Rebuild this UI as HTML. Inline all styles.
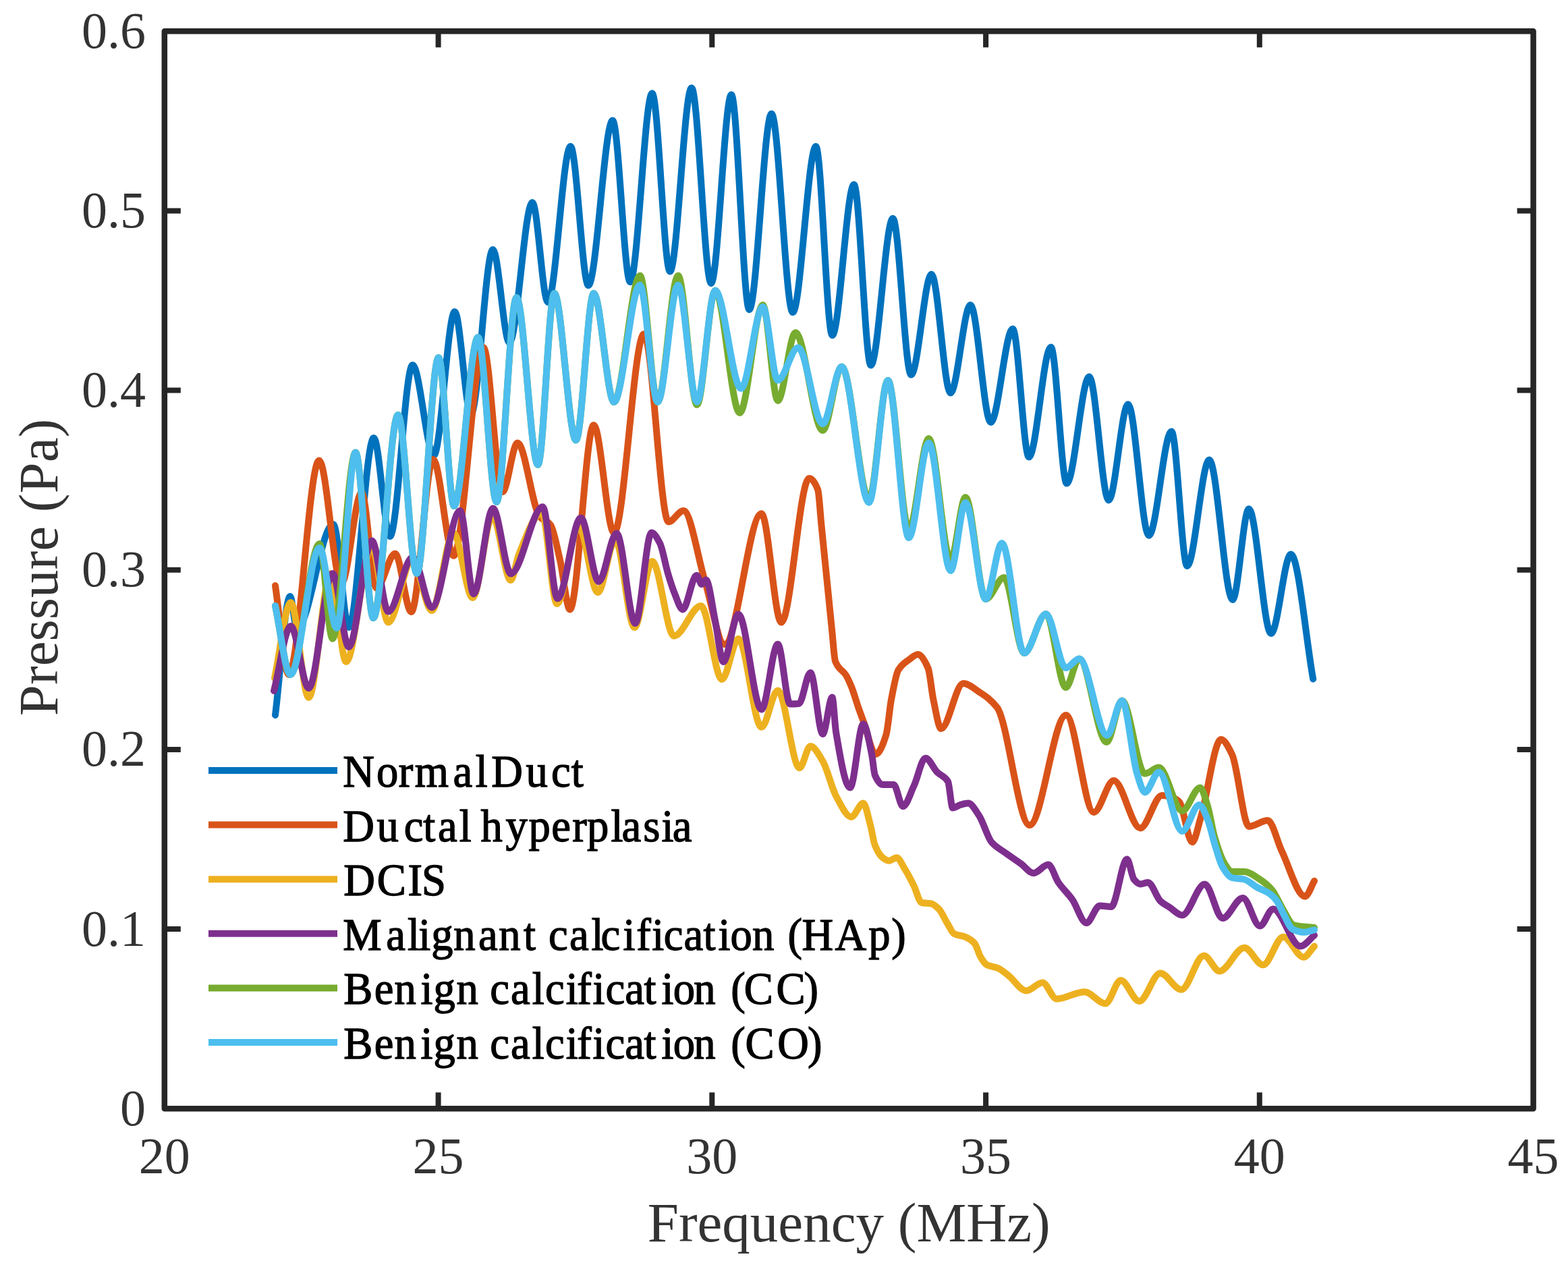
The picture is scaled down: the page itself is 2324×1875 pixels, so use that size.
<!DOCTYPE html>
<html><head><meta charset="utf-8"><title>Pressure vs Frequency</title>
<style>
html,body{margin:0;padding:0;background:#fff;}
svg{display:block;}
text{font-family:"Liberation Serif","Times New Roman",serif;fill:#333;font-size:76px;}
text.lab{font-size:83px;}
text.lg{font-size:68px;fill:#000;stroke:#000;stroke-width:1.4px;}
</style></head><body>
<svg width="2324" height="1875" viewBox="0 0 2324 1875">
<rect x="0" y="0" width="2324" height="1875" fill="#fff"/>
<g fill="none" stroke-linejoin="round" stroke-linecap="round">
<path d="M408.0 1060.0C415.3 1001.3 422.7 884.0 430.0 884.0C433.3 884.0 436.7 932.0 440.0 932.0C458.0 932.0 476.0 777.0 494.0 777.0C501.7 777.0 509.3 930.0 517.0 930.0C529.3 930.0 541.7 649.0 554.0 649.0C562.0 649.0 570.0 795.0 578.0 795.0C589.2 795.0 600.3 541.0 611.5 541.0C622.0 541.0 632.5 675.0 643.0 675.0C653.3 675.0 663.7 462.0 674.0 462.0C682.0 462.0 690.0 614.0 698.0 614.0C708.8 614.0 719.7 370.0 730.5 370.0C738.7 370.0 746.8 508.0 755.0 508.0C766.3 508.0 777.7 300.0 789.0 300.0C796.7 300.0 804.3 448.0 812.0 448.0C823.2 448.0 834.4 217.0 845.6 217.0C854.4 217.0 863.2 423.0 872.0 423.0C884.0 423.0 896.0 178.6 908.0 178.6C916.7 178.6 925.3 418.0 934.0 418.0C944.9 418.0 955.7 138.3 966.6 138.3C975.4 138.3 984.2 402.4 993.0 402.4C1003.7 402.4 1014.3 130.2 1025.0 130.2C1034.7 130.2 1044.3 420.0 1054.0 420.0C1064.0 420.0 1074.0 140.3 1084.0 140.3C1092.8 140.3 1101.7 459.0 1110.5 459.0C1121.5 459.0 1132.5 168.5 1143.5 168.5C1154.0 168.5 1164.5 463.0 1175.0 463.0C1186.4 463.0 1197.9 217.0 1209.3 217.0C1217.4 217.0 1225.4 497.0 1233.5 497.0C1244.2 497.0 1255.0 273.4 1265.7 273.4C1274.0 273.4 1282.4 541.5 1290.7 541.5C1301.6 541.5 1312.5 323.8 1323.4 323.8C1332.4 323.8 1341.4 555.6 1350.4 555.6C1360.5 555.6 1370.5 406.5 1380.6 406.5C1390.0 406.5 1399.4 582.5 1408.8 582.5C1418.7 582.5 1428.5 452.0 1438.4 452.0C1448.4 452.0 1458.4 626.0 1468.4 626.0C1479.3 626.0 1490.1 487.5 1501.0 487.5C1509.0 487.5 1517.0 677.5 1525.0 677.5C1535.9 677.5 1546.7 514.5 1557.6 514.5C1565.4 514.5 1573.2 716.6 1581.0 716.6C1592.1 716.6 1603.3 558.3 1614.4 558.3C1624.0 558.3 1633.6 741.5 1643.2 741.5C1652.8 741.5 1662.4 599.3 1672.0 599.3C1682.3 599.3 1692.5 793.8 1702.8 793.8C1714.0 793.8 1725.1 639.4 1736.3 639.4C1744.0 639.4 1751.8 838.9 1759.5 838.9C1770.4 838.9 1781.4 681.6 1792.3 681.6C1803.8 681.6 1815.4 889.0 1826.9 889.0C1834.9 889.0 1843.0 754.2 1851.0 754.2C1862.0 754.2 1872.9 939.1 1883.9 939.1C1893.7 939.1 1903.5 821.6 1913.3 821.6C1924.3 821.6 1935.2 944.9 1946.2 1006.5" stroke="#0072BD" stroke-width="10"/>
<path d="M408.0 868.0C414.7 912.0 421.3 1000.0 428.0 1000.0C443.0 1000.0 458.0 682.4 473.0 682.4C484.0 682.4 495.0 865.0 506.0 865.0C516.0 865.0 526.0 730.0 536.0 730.0C543.3 730.0 550.7 872.0 558.0 872.0C567.2 872.0 576.4 820.6 585.6 820.6C593.6 820.6 601.6 907.0 609.6 907.0C620.4 907.0 631.2 681.0 642.0 681.0C652.1 681.0 662.2 823.8 672.3 823.8C687.1 823.8 701.8 515.3 716.6 515.3C726.0 515.3 735.4 729.0 744.8 729.0C752.2 729.0 759.6 656.5 767.0 656.5C778.0 656.5 789.0 753.5 800.0 766.0C805.3 772.1 810.7 771.2 816.0 778.0C820.7 783.9 825.3 810.1 830.0 830.0C834.9 850.8 839.8 903.4 844.7 903.4C856.5 903.4 868.2 630.0 880.0 630.0C890.0 630.0 900.0 790.0 910.0 790.0C924.8 790.0 939.7 495.0 954.5 495.0C966.6 495.0 978.7 773.4 990.8 773.4C998.2 773.4 1005.6 757.0 1013.0 757.0C1023.7 757.0 1034.3 827.4 1045.0 862.0C1054.7 893.3 1064.3 955.0 1074.0 955.0C1092.2 955.0 1110.4 761.3 1128.6 761.3C1138.4 761.3 1148.2 922.6 1158.0 922.6C1171.7 922.6 1185.5 709.0 1199.2 709.0C1203.5 709.0 1207.9 714.7 1212.2 726.0C1213.9 730.5 1215.7 760.7 1217.4 778.0C1219.1 795.3 1220.9 812.8 1222.6 830.0C1224.3 847.2 1226.1 864.3 1227.8 881.5C1229.5 898.7 1231.3 916.7 1233.0 933.4C1234.7 949.5 1236.3 975.6 1238.0 980.0C1243.3 994.1 1248.7 992.1 1254.0 1001.0C1256.7 1005.4 1259.3 1011.4 1262.0 1018.0C1265.3 1026.2 1268.7 1038.5 1272.0 1048.0C1274.7 1055.6 1277.3 1062.8 1280.0 1070.0C1286.0 1086.3 1292.0 1118.0 1298.0 1118.0C1303.1 1118.0 1308.3 1105.2 1313.4 1089.0C1315.9 1081.0 1318.5 1050.3 1321.0 1037.0C1324.5 1018.6 1328.0 998.7 1331.5 993.0C1336.7 984.5 1341.8 981.8 1347.0 978.0C1351.5 974.7 1356.0 970.0 1360.5 970.0C1365.5 970.0 1370.6 978.6 1375.6 990.5C1378.2 996.7 1380.8 1024.8 1383.4 1037.0C1387.2 1054.8 1391.0 1080.0 1394.8 1080.0C1405.8 1080.0 1416.7 1013.0 1427.7 1013.0C1435.7 1013.0 1443.8 1020.7 1451.8 1026.0C1460.5 1031.7 1469.1 1037.1 1477.8 1048.5C1493.9 1069.6 1509.9 1223.0 1526.0 1223.0C1544.0 1223.0 1562.0 1060.0 1580.0 1060.0C1593.7 1060.0 1607.5 1204.0 1621.2 1204.0C1631.0 1204.0 1640.9 1157.0 1650.7 1157.0C1663.8 1157.0 1676.9 1227.4 1690.0 1227.4C1700.7 1227.4 1711.5 1179.0 1722.2 1179.0C1726.8 1179.0 1731.4 1180.1 1736.0 1181.3C1739.9 1182.3 1743.7 1184.6 1747.6 1188.2C1754.1 1194.3 1760.6 1248.2 1767.1 1248.2C1771.3 1248.2 1775.6 1225.1 1779.8 1211.3C1789.8 1178.8 1799.8 1096.0 1809.8 1096.0C1815.2 1096.0 1820.6 1107.3 1826.0 1118.0C1834.4 1134.7 1842.8 1225.0 1851.2 1225.0C1860.4 1225.0 1869.7 1216.0 1878.9 1216.0C1885.9 1216.0 1893.0 1247.4 1900.0 1262.0C1911.4 1285.6 1922.8 1328.8 1934.2 1328.8C1938.8 1328.8 1943.4 1313.5 1948.0 1305.8" stroke="#D95319" stroke-width="10"/>
<path d="M407.0 1005.0C415.0 967.7 423.0 893.0 431.0 893.0C439.8 893.0 448.7 1034.0 457.5 1034.0C468.3 1034.0 479.2 850.0 490.0 850.0C497.7 850.0 505.3 981.0 513.0 981.0C525.7 981.0 538.3 810.0 551.0 810.0C559.2 810.0 567.3 922.6 575.5 922.6C587.3 922.6 599.2 830.0 611.0 830.0C620.7 830.0 630.3 905.0 640.0 905.0C650.7 905.0 661.3 790.0 672.0 790.0C681.5 790.0 691.0 886.0 700.5 886.0C710.3 886.0 720.2 765.0 730.0 765.0C739.0 765.0 748.0 860.0 757.0 860.0C761.0 860.0 765.0 831.5 769.0 821.8C780.3 794.4 791.7 760.0 803.0 760.0C810.5 760.0 818.0 895.0 825.5 895.0C836.2 895.0 847.0 780.0 857.7 780.0C867.1 780.0 876.6 878.0 886.0 878.0C894.7 878.0 903.3 800.0 912.0 800.0C921.5 800.0 930.9 930.0 940.4 930.0C949.1 930.0 957.9 831.9 966.6 831.9C977.4 831.9 988.2 942.7 999.0 942.7C1012.3 942.7 1025.7 898.0 1039.0 898.0C1049.3 898.0 1059.7 1007.0 1070.0 1007.0C1078.1 1007.0 1086.3 946.8 1094.4 946.8C1105.8 946.8 1117.2 1077.8 1128.6 1077.8C1136.7 1077.8 1144.7 1023.4 1152.8 1023.4C1163.5 1023.4 1174.3 1138.3 1185.0 1138.3C1190.4 1138.3 1195.8 1106.0 1201.2 1106.0C1207.3 1106.0 1213.3 1118.2 1219.4 1128.2C1226.1 1139.3 1232.8 1168.5 1239.5 1180.6C1246.9 1193.9 1254.3 1210.9 1261.7 1210.9C1267.6 1210.9 1273.6 1190.6 1279.5 1190.6C1283.0 1190.6 1286.5 1210.0 1290.0 1222.8C1292.3 1231.1 1294.5 1247.3 1296.8 1252.8C1300.6 1262.2 1304.5 1268.4 1308.3 1271.2C1311.4 1273.5 1314.5 1275.8 1317.6 1275.8C1321.4 1275.8 1325.2 1271.2 1329.0 1271.2C1332.9 1271.2 1336.7 1281.2 1340.6 1287.3C1345.2 1294.6 1349.8 1303.5 1354.4 1312.7C1358.3 1320.4 1362.1 1337.3 1366.0 1338.0C1370.6 1338.8 1375.2 1338.5 1379.8 1339.2C1383.6 1339.8 1387.5 1343.5 1391.3 1347.2C1395.9 1351.6 1400.4 1363.1 1405.0 1370.3C1408.1 1375.2 1411.2 1382.5 1414.3 1384.1C1419.7 1386.8 1425.1 1386.5 1430.5 1388.7C1435.1 1390.6 1439.7 1393.1 1444.3 1398.0C1447.4 1401.3 1450.4 1413.8 1453.5 1418.7C1456.6 1423.6 1459.6 1428.7 1462.7 1430.2C1468.1 1432.8 1473.4 1432.6 1478.8 1434.8C1484.2 1437.0 1489.6 1442.1 1495.0 1446.3C1503.7 1453.0 1512.3 1468.5 1521.0 1468.5C1529.1 1468.5 1537.1 1456.4 1545.2 1456.4C1552.1 1456.4 1559.1 1480.6 1566.0 1480.6C1579.8 1480.6 1593.6 1470.2 1607.4 1470.2C1617.8 1470.2 1628.1 1487.5 1638.5 1487.5C1646.0 1487.5 1653.5 1453.0 1661.0 1453.0C1670.2 1453.0 1679.4 1484.0 1688.6 1484.0C1699.0 1484.0 1709.3 1442.6 1719.7 1442.6C1730.1 1442.6 1740.5 1466.8 1750.9 1466.8C1762.1 1466.8 1773.2 1416.4 1784.4 1416.4C1792.1 1416.4 1799.8 1439.4 1807.5 1439.4C1819.8 1439.4 1832.0 1404.8 1844.3 1404.8C1853.5 1404.8 1862.8 1430.2 1872.0 1430.2C1882.0 1430.2 1892.0 1388.7 1902.0 1388.7C1912.0 1388.7 1922.0 1418.7 1932.0 1418.7C1937.3 1418.7 1942.7 1407.9 1948.0 1402.5" stroke="#EDB120" stroke-width="10"/>
<path d="M406.0 1024.0C414.3 992.0 422.7 928.0 431.0 928.0C439.8 928.0 448.7 1020.0 457.5 1020.0C469.3 1020.0 481.0 850.0 492.8 850.0C500.9 850.0 508.9 959.0 517.0 959.0C528.4 959.0 539.9 801.6 551.3 801.6C559.4 801.6 567.4 906.5 575.5 906.5C587.6 906.5 599.7 825.8 611.8 825.8C621.2 825.8 630.6 900.4 640.0 900.4C654.0 900.4 668.0 757.0 682.0 757.0C688.6 757.0 695.3 880.4 701.9 880.4C711.5 880.4 721.1 753.6 730.7 753.6C739.5 753.6 748.4 850.4 757.2 850.4C772.9 850.4 788.7 751.3 804.4 751.3C811.7 751.3 819.0 887.3 826.3 887.3C837.8 887.3 849.4 767.5 860.9 767.5C869.7 767.5 878.6 862.0 887.4 862.0C896.2 862.0 905.1 790.5 913.9 790.5C923.1 790.5 932.3 924.0 941.5 924.0C949.6 924.0 957.6 789.4 965.7 789.4C969.8 789.4 973.9 797.2 978.0 805.0C982.0 812.6 986.0 836.7 990.0 850.0C993.3 861.1 996.7 872.0 1000.0 880.0C1003.9 889.4 1007.9 903.4 1011.8 903.4C1018.7 903.4 1025.6 852.7 1032.5 852.7C1035.0 852.7 1037.5 866.0 1040.0 866.0C1042.1 866.0 1044.3 859.6 1046.4 859.6C1050.9 859.6 1055.5 898.5 1060.0 920.0C1064.0 939.0 1068.0 981.0 1072.0 981.0C1079.5 981.0 1086.9 910.5 1094.4 910.5C1105.8 910.5 1117.2 1051.6 1128.6 1051.6C1136.7 1051.6 1144.7 954.8 1152.8 954.8C1158.9 954.8 1164.9 1043.5 1171.0 1043.5C1175.3 1043.5 1179.7 1043.3 1184.0 1043.0C1189.7 1042.6 1195.5 997.0 1201.2 997.0C1207.3 997.0 1213.3 1088.0 1219.4 1088.0C1224.1 1088.0 1228.8 1033.5 1233.5 1033.5C1235.3 1033.5 1237.2 1073.6 1239.0 1084.6C1246.0 1126.7 1253.0 1167.5 1260.0 1167.5C1266.5 1167.5 1273.0 1073.0 1279.5 1073.0C1283.7 1073.0 1288.0 1098.4 1292.2 1119.0C1293.7 1126.5 1295.3 1145.5 1296.8 1149.0C1300.6 1157.7 1304.5 1163.0 1308.3 1163.0C1313.7 1163.0 1319.1 1163.0 1324.5 1163.0C1329.1 1163.0 1333.7 1195.2 1338.3 1195.2C1343.7 1195.2 1349.0 1176.4 1354.4 1165.2C1360.2 1153.1 1365.9 1123.7 1371.7 1123.7C1377.5 1123.7 1383.2 1138.7 1389.0 1144.5C1394.3 1149.8 1399.7 1149.5 1405.0 1158.3C1407.3 1162.2 1409.7 1197.5 1412.0 1197.5C1415.8 1197.5 1419.7 1193.9 1423.5 1192.9C1427.3 1191.9 1431.2 1190.6 1435.0 1190.6C1440.4 1190.6 1445.8 1201.1 1451.2 1209.0C1457.3 1218.0 1463.5 1241.2 1469.6 1248.2C1476.5 1256.1 1483.5 1259.2 1490.4 1264.3C1498.1 1269.9 1505.7 1274.8 1513.4 1280.4C1519.5 1284.8 1525.7 1294.2 1531.8 1294.2C1539.1 1294.2 1546.4 1281.6 1553.7 1281.6C1558.7 1281.6 1563.7 1300.7 1568.7 1308.0C1575.6 1318.1 1582.5 1323.7 1589.4 1333.4C1596.3 1343.2 1603.3 1368.0 1610.2 1368.0C1616.8 1368.0 1623.4 1342.6 1630.0 1342.6C1635.7 1342.6 1641.3 1344.0 1647.0 1344.0C1654.8 1344.0 1662.6 1273.5 1670.4 1273.5C1673.8 1273.5 1677.3 1299.5 1680.7 1303.5C1683.8 1307.1 1686.9 1310.4 1690.0 1310.4C1693.8 1310.4 1697.7 1308.0 1701.5 1308.0C1707.7 1308.0 1713.8 1330.0 1720.0 1335.7C1724.6 1339.9 1729.1 1342.0 1733.7 1345.0C1739.9 1349.0 1746.0 1356.5 1752.2 1356.5C1763.3 1356.5 1774.5 1310.4 1785.6 1310.4C1794.4 1310.4 1803.2 1361.0 1812.0 1361.0C1822.0 1361.0 1832.0 1331.0 1842.0 1331.0C1850.5 1331.0 1858.9 1372.6 1867.4 1372.6C1873.9 1372.6 1880.5 1347.2 1887.0 1347.2C1900.4 1347.2 1913.9 1402.5 1927.3 1402.5C1934.2 1402.5 1941.1 1391.8 1948.0 1386.4" stroke="#7E2F8E" stroke-width="10"/>
<path d="M408.0 898.0C415.5 932.0 423.0 1000.0 430.5 1000.0C444.9 1000.0 459.2 806.0 473.6 806.0C480.0 806.0 486.4 946.8 492.8 946.8C504.2 946.8 515.6 670.5 527.0 670.5C535.8 670.5 544.6 916.0 553.4 916.0C565.6 916.0 577.8 615.0 590.0 615.0C599.3 615.0 608.5 850.0 617.8 850.0C628.5 850.0 639.3 530.0 650.0 530.0C657.7 530.0 665.3 750.0 673.0 750.0C684.8 750.0 696.7 500.0 708.5 500.0C717.7 500.0 726.8 744.0 736.0 744.0C745.8 744.0 755.7 441.0 765.5 441.0C776.1 441.0 786.7 688.7 797.3 688.7C805.4 688.7 813.4 434.7 821.5 434.7C832.2 434.7 843.0 652.4 853.7 652.4C862.5 652.4 871.2 434.7 880.0 434.7C890.0 434.7 900.0 596.0 910.0 596.0C922.8 596.0 935.7 408.5 948.5 408.5C957.2 408.5 966.0 596.0 974.7 596.0C984.8 596.0 994.9 408.5 1005.0 408.5C1014.3 408.5 1023.7 600.0 1033.0 600.0C1042.0 600.0 1051.0 430.6 1060.0 430.6C1072.1 430.6 1084.3 612.0 1096.4 612.0C1107.8 612.0 1119.2 452.0 1130.6 452.0C1138.0 452.0 1145.4 594.0 1152.8 594.0C1161.5 594.0 1170.3 493.0 1179.0 493.0C1192.5 493.0 1205.9 638.0 1219.4 638.0C1228.8 638.0 1238.2 543.5 1247.6 543.5C1261.1 543.5 1274.5 740.0 1288.0 740.0C1297.3 740.0 1306.7 563.7 1316.0 563.7C1326.3 563.7 1336.7 785.0 1347.0 785.0C1356.9 785.0 1366.7 650.0 1376.6 650.0C1387.4 650.0 1398.1 830.0 1408.9 830.0C1416.3 830.0 1423.6 737.0 1431.0 737.0C1441.0 737.0 1451.0 888.0 1461.0 888.0C1470.0 888.0 1479.0 856.0 1488.0 856.0C1498.0 856.0 1508.0 968.0 1518.0 968.0C1528.7 968.0 1539.5 910.0 1550.2 910.0C1560.0 910.0 1569.9 1019.0 1579.7 1019.0C1586.3 1019.0 1592.9 976.5 1599.5 976.5C1613.1 976.5 1626.6 1100.0 1640.2 1100.0C1647.8 1100.0 1655.4 1038.5 1663.0 1038.5C1674.3 1038.5 1685.6 1146.8 1696.9 1146.8C1703.8 1146.8 1710.7 1137.6 1717.6 1137.6C1729.1 1137.6 1740.7 1202.0 1752.2 1202.0C1761.0 1202.0 1769.9 1167.5 1778.7 1167.5C1782.5 1167.5 1786.2 1183.0 1790.0 1195.0C1793.3 1205.6 1796.7 1228.6 1800.0 1240.0C1805.0 1257.0 1810.0 1272.4 1815.0 1280.0C1818.7 1285.6 1822.3 1292.0 1826.0 1292.0C1832.1 1292.0 1838.2 1292.0 1844.3 1292.0C1852.0 1292.0 1859.7 1298.6 1867.4 1303.5C1873.5 1307.4 1879.7 1312.3 1885.8 1319.6C1890.5 1325.2 1895.3 1337.3 1900.0 1345.0C1906.0 1354.7 1912.0 1370.0 1918.0 1371.4C1928.0 1373.8 1938.0 1373.8 1948.0 1375.0" stroke="#77AC30" stroke-width="10"/>
<path d="M408.0 898.0C415.5 932.0 423.0 1000.0 430.5 1000.0C444.9 1000.0 459.2 812.0 473.6 812.0C482.1 812.0 490.5 931.0 499.0 931.0C508.3 931.0 517.7 670.5 527.0 670.5C535.8 670.5 544.6 916.0 553.4 916.0C565.6 916.0 577.8 615.0 590.0 615.0C599.3 615.0 608.5 850.0 617.8 850.0C628.5 850.0 639.3 530.0 650.0 530.0C657.7 530.0 665.3 750.0 673.0 750.0C684.8 750.0 696.7 500.0 708.5 500.0C717.7 500.0 726.8 744.0 736.0 744.0C745.8 744.0 755.7 441.0 765.5 441.0C776.1 441.0 786.7 688.7 797.3 688.7C805.4 688.7 813.4 434.7 821.5 434.7C832.2 434.7 843.0 652.4 853.7 652.4C862.5 652.4 871.2 434.7 880.0 434.7C890.0 434.7 900.0 596.0 910.0 596.0C922.8 596.0 935.7 422.6 948.5 422.6C957.2 422.6 966.0 596.0 974.7 596.0C984.8 596.0 994.9 422.6 1005.0 422.6C1014.3 422.6 1023.7 596.0 1033.0 596.0C1042.0 596.0 1051.0 430.6 1060.0 430.6C1072.8 430.6 1085.6 575.8 1098.4 575.8C1109.1 575.8 1119.9 454.8 1130.6 454.8C1138.0 454.8 1145.4 563.7 1152.8 563.7C1162.9 563.7 1172.9 515.3 1183.0 515.3C1195.1 515.3 1207.3 628.2 1219.4 628.2C1228.8 628.2 1238.2 543.5 1247.6 543.5C1261.1 543.5 1274.5 745.0 1288.0 745.0C1297.3 745.0 1306.7 563.7 1316.0 563.7C1326.3 563.7 1336.7 797.0 1347.0 797.0C1356.9 797.0 1366.7 656.5 1376.6 656.5C1387.4 656.5 1398.1 846.0 1408.9 846.0C1416.3 846.0 1423.6 745.0 1431.0 745.0C1441.0 745.0 1451.0 888.0 1461.0 888.0C1469.0 888.0 1477.0 805.0 1485.0 805.0C1496.0 805.0 1507.0 968.0 1518.0 968.0C1528.7 968.0 1539.5 910.0 1550.2 910.0C1560.0 910.0 1569.9 990.0 1579.7 990.0C1586.3 990.0 1592.9 976.5 1599.5 976.5C1613.3 976.5 1627.2 1090.0 1641.0 1090.0C1648.3 1090.0 1655.7 1038.5 1663.0 1038.5C1670.4 1038.5 1677.9 1123.9 1685.3 1146.8C1689.2 1158.7 1693.0 1174.4 1696.9 1174.4C1703.8 1174.4 1710.7 1144.5 1717.6 1144.5C1729.1 1144.5 1740.7 1232.0 1752.2 1232.0C1760.6 1232.0 1769.1 1192.9 1777.5 1192.9C1781.7 1192.9 1785.8 1205.1 1790.0 1215.0C1793.3 1222.9 1796.7 1239.4 1800.0 1250.0C1804.0 1262.8 1808.0 1278.4 1812.0 1285.0C1816.7 1292.8 1821.3 1299.8 1826.0 1301.0C1832.1 1302.5 1838.2 1302.1 1844.3 1303.5C1850.5 1304.9 1856.6 1311.6 1862.8 1315.0C1868.9 1318.4 1875.1 1320.0 1881.2 1324.2C1885.0 1326.8 1888.9 1330.6 1892.7 1335.7C1895.8 1339.9 1898.9 1348.4 1902.0 1354.0C1906.6 1362.4 1911.2 1374.9 1915.8 1377.2C1921.2 1379.9 1926.6 1381.8 1932.0 1381.8C1937.3 1381.8 1942.7 1379.5 1948.0 1378.3" stroke="#4DBEEE" stroke-width="10"/>
</g>
<path d="M649.6 1643.2V1619.2M649.6 46.2V70.2M1055.3 1643.2V1619.2M1055.3 46.2V70.2M1461.1 1643.2V1619.2M1461.1 46.2V70.2M1866.8 1643.2V1619.2M1866.8 46.2V70.2M243.8 1377.0H267.8M2272.6 1377.0H2248.6M243.8 1110.9H267.8M2272.6 1110.9H2248.6M243.8 844.7H267.8M2272.6 844.7H2248.6M243.8 578.5H267.8M2272.6 578.5H2248.6M243.8 312.4H267.8M2272.6 312.4H2248.6" stroke="#262626" stroke-width="8" fill="none"/>
<rect x="243.8" y="46.2" width="2028.8" height="1597.0" stroke="#262626" stroke-width="8.5" fill="none" stroke-linejoin="round"/>
<text x="216" y="1667.7" text-anchor="end">0</text><text x="216" y="1401.5" text-anchor="end">0.1</text><text x="216" y="1135.4" text-anchor="end">0.2</text><text x="216" y="869.2" text-anchor="end">0.3</text><text x="216" y="603.0" text-anchor="end">0.4</text><text x="216" y="336.9" text-anchor="end">0.5</text><text x="216" y="70.7" text-anchor="end">0.6</text><text x="243.8" y="1739" text-anchor="middle">20</text><text x="649.6" y="1739" text-anchor="middle">25</text><text x="1055.3" y="1739" text-anchor="middle">30</text><text x="1461.1" y="1739" text-anchor="middle">35</text><text x="1866.8" y="1739" text-anchor="middle">40</text><text x="2272.6" y="1739" text-anchor="middle">45</text>
<text class="lab" x="1258.2" y="1840" text-anchor="middle">Frequency (MHz)</text>
<text class="lab" transform="translate(85 841) rotate(-90)" text-anchor="middle">Pressure (Pa)</text>
<path d="M309 1142.0H500" stroke="#0072BD" stroke-width="10" fill="none"/><text transform="scale(0.95 1)" x="535.1 587.3 621.8 647.2 706.9 741.8 760.7 766.7 820.6 859.9 891.2" y="1166.0" class="lg">Normal Duct</text><path d="M309 1222.6H500" stroke="#D95319" stroke-width="10" fill="none"/><text transform="scale(0.95 1)" x="535.1 587.8 630.3 660.2 683.2 716.5 735.4 749.9 788.9 824.8 860.4 893.0 915.7 953.2 970.1 1003.3 1032.2 1049.2" y="1246.6" class="lg">Ductal hyperplasia</text><path d="M309 1303.2H500" stroke="#EDB120" stroke-width="10" fill="none"/><text transform="scale(0.95 1)" x="536.1 588.1 636.4 657.8" y="1327.2" class="lg">DCIS</text><path d="M309 1383.8H500" stroke="#7E2F8E" stroke-width="10" fill="none"/><text transform="scale(0.95 1)" x="535.1 602.5 635.8 653.0 673.0 707.7 746.2 778.3 816.9 835.8 855.8 888.3 922.7 937.5 972.0 992.9 1017.2 1035.4 1066.8 1097.5 1120.5 1139.5 1173.6 1207.6 1228.9 1251.1 1302.6 1355.0 1390.9" y="1407.8" class="lg">Malignant calcification (HAp)</text><path d="M309 1464.4H500" stroke="#77AC30" stroke-width="10" fill="none"/><text transform="scale(0.95 1)" x="536.1 583.9 615.2 656.2 676.2 712.0 746.0 764.4 796.9 830.2 850.5 882.8 900.4 924.8 944.8 975.1 1004.8 1032.0 1050.3 1082.4 1116.4 1140.2 1160.9 1211.0 1254.3" y="1488.4" class="lg">Benign calcification (CC)</text><path d="M309 1545.0H500" stroke="#4DBEEE" stroke-width="10" fill="none"/><text transform="scale(0.95 1)" x="536.1 583.9 615.2 656.2 676.2 712.0 746.0 764.4 796.9 830.2 850.5 882.8 900.4 924.8 944.8 975.1 1004.8 1032.0 1050.3 1082.4 1116.4 1140.2 1162.7 1213.0 1259.9" y="1569.0" class="lg">Benign calcification (CO)</text>
</svg>
</body></html>
